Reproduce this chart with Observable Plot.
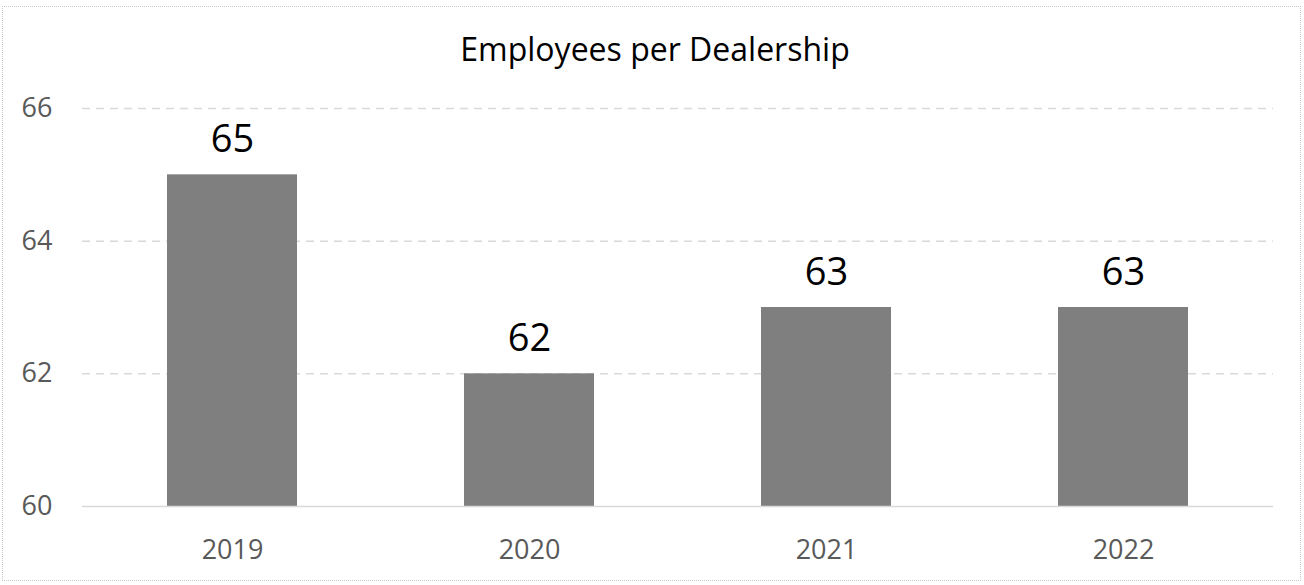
<!DOCTYPE html>
<html>
<head>
<meta charset="utf-8">
<script src="https://cdn.jsdelivr.net/npm/d3@7"></script>
<script src="https://cdn.jsdelivr.net/npm/@observablehq/plot@0.6"></script>
<style>
  html, body { margin: 0; padding: 0; background: #fff; }
  #wrap { position: relative; width: 1304px; height: 585px; overflow: hidden; font-family: "Open Sans", sans-serif; }
  #border { position: absolute; left: 2px; top: 6px; width: 1299px; height: 575px; border: 1px dotted #c8c8c8; box-sizing: border-box; pointer-events: none; }
  #title { height: 70px; box-sizing: border-box; padding-top: 33px; text-align: center; font-size: 32px; line-height: 31px; color: #000; margin-left: 6px; }
  #chart svg { display: block; }
</style>
</head>
<body>
<div id="wrap">
  <div id="border"></div>
  <div id="title">Employees per Dealership</div>
  <div id="chart"></div>
</div>
<script>
const years = ["2019", "2020", "2021", "2022"];
const employees = [65, 62, 63, 63];
const yTicks = [60, 62, 64, 66];

const data = years.map((y, i) => ({year: y, value: employees[i]}));

const chart = Plot.plot({
  width: 1304,
  height: 515,
  marginTop: 38,
  marginBottom: 79,
  marginLeft: 82,
  marginRight: 31,
  style: {fontFamily: "Open Sans, sans-serif", background: "transparent"},
  x: {domain: years, paddingInner: 0.563, paddingOuter: 0.2815, label: null},
  y: {domain: [60, 66], label: null},
  marks: [
    Plot.gridY(yTicks.slice(1), {stroke: "#d9d9d9", strokeOpacity: 1, strokeWidth: 1.5, strokeDasharray: "8,6"}),
    Plot.barY(data, {x: "year", y1: 60, y2: "value", fill: "#7f7f7f"}),
    Plot.ruleY([60], {stroke: "#d9d9d9", strokeWidth: 1.5}),
    Plot.axisY(yTicks, {tickSize: 0, tickPadding: 30, tickFormat: d => String(d), fontSize: 27, fill: "#595959", label: null}),
    Plot.axisX({tickSize: 0, tickPadding: 33, fontSize: 27, fill: "#595959", label: null}),
    Plot.text(data, {x: "year", y: "value", text: d => String(d.value), fontSize: 38, fill: "#000", lineAnchor: "middle", dy: -35})
  ]
});
document.getElementById("chart").appendChild(chart);
</script>
</body>
</html>
